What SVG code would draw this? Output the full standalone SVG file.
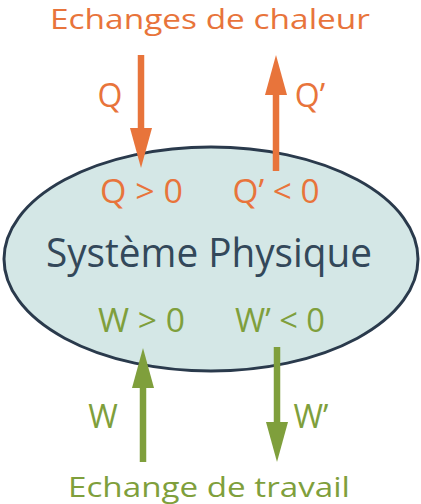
<svg xmlns="http://www.w3.org/2000/svg" width="421" height="504" viewBox="0 0 421 504">
<style>
text{font-family:"Open Sans","Liberation Sans",sans-serif;text-anchor:middle}
.o{fill:#e8743b}
.g{fill:#7f9f3c}
.lbl{font-size:32px}
.title{font-size:28px}
.main{font-size:40px;fill:#33485a}
.ao{stroke:#e8743b;stroke-width:6.5;fill:none}
.ag{stroke:#7f9f3c;stroke-width:6.5;fill:none}
</style>
<defs>
<marker id="ho" markerUnits="userSpaceOnUse" markerWidth="40" markerHeight="22" refX="5" refY="11" orient="auto" overflow="visible">
<path d="M0,0 L40,11 L0,22 z" fill="#e8743b"/>
</marker>
<marker id="hg" markerUnits="userSpaceOnUse" markerWidth="40" markerHeight="22" refX="5" refY="11" orient="auto" overflow="visible">
<path d="M0,0 L40,11 L0,22 z" fill="#7f9f3c"/>
</marker>
</defs>
<g id="systeme">
<ellipse cx="211" cy="259" rx="207" ry="112" fill="#d4e7e6" stroke="#2a3a4c" stroke-width="3"/>
<text class="main" x="209" y="267" textLength="326" lengthAdjust="spacingAndGlyphs">Système Physique</text>
<text class="o lbl" x="141.5" y="203" textLength="83" lengthAdjust="spacingAndGlyphs">Q &gt; 0</text>
<text class="o lbl" x="276" y="203" textLength="87" lengthAdjust="spacingAndGlyphs">Q’ &lt; 0</text>
<text class="g lbl" x="141.5" y="332" textLength="87" lengthAdjust="spacingAndGlyphs">W &gt; 0</text>
<text class="g lbl" x="280" y="332" textLength="90" lengthAdjust="spacingAndGlyphs">W’ &lt; 0</text>
</g>
<g id="chaleur">
<text class="o title" x="210" y="29" textLength="320" lengthAdjust="spacingAndGlyphs">Echanges de chaleur</text>
<text class="o lbl" x="110" y="107">Q</text>
<text class="o lbl" x="310" y="107">Q’</text>
</g>
<g id="travail">
<text class="g title" x="209" y="497" textLength="282" lengthAdjust="spacingAndGlyphs">Echange de travail</text>
<text class="g lbl" x="103" y="428">W</text>
<text class="g lbl" x="311" y="428">W’</text>
</g>
<g id="connectors">
<line class="ao" x1="141" y1="55" x2="141" y2="133" marker-end="url(#ho)"/>
<line class="ao" x1="276" y1="171" x2="276" y2="90" marker-end="url(#ho)"/>
<line class="ag" x1="143" y1="462" x2="143" y2="383" marker-end="url(#hg)"/>
<line class="ag" x1="277" y1="347" x2="277" y2="427" marker-end="url(#hg)"/>
</g>
</svg>
